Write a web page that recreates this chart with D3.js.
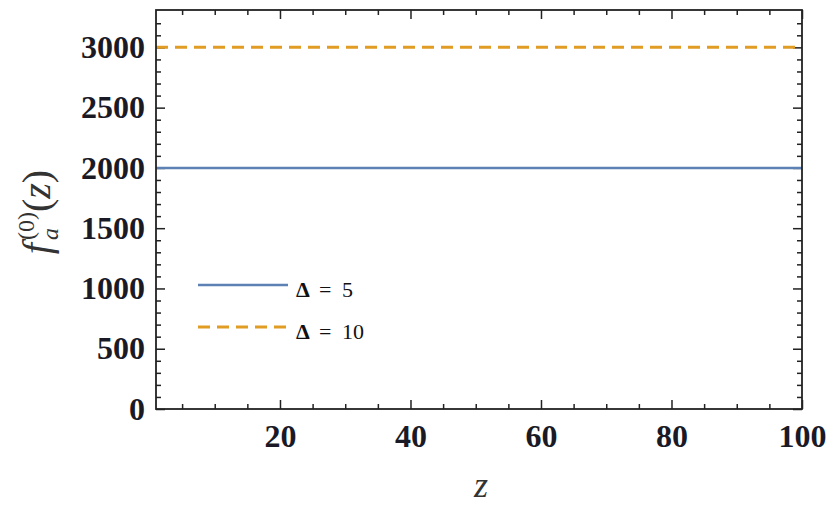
<!DOCTYPE html>
<html lang="en">
<head>
    <meta charset="UTF-8">
    <title>f_a(z)</title>
    <script src="https://d3js.org/d3.v7.min.js"></script>
    <style>
        body { margin: 0; background: #fff; }
        .tick text { font-family: "Liberation Serif", "Times New Roman", serif; }
    </style>
</head>
<body>
    <div id="chart"></div>
    <script>
        // data
        const zValues = [1, 100];
        const seriesNames = ["5", "10"];   // values of Delta
        const delta5 = [2000, 2000];
        const delta10 = [3000, 3000];
        const xTicks = [20, 40, 60, 80, 100];
        const yTicks = [0, 500, 1000, 1500, 2000, 2500, 3000];

        const W = 831, H = 506;
        const margin = { top: 10, right: 29, bottom: 97, left: 156 };
        const width = W - margin.left - margin.right;
        const height = H - margin.top - margin.bottom;
        const serif = "Liberation Serif, Times New Roman, serif";

        const svg = d3.select("#chart").append("svg")
            .attr("width", W).attr("height", H);
        const g = svg.append("g")
            .attr("transform", `translate(${margin.left},${margin.top})`);

        const x = d3.scaleLinear().domain([1, 100]).range([0, width]);
        const y = d3.scaleLinear().domain([0, 3310]).range([height, 0]);

        const xMinor = d3.range(5, 100, 5).filter(v => v % 20 !== 0);
        const yMinor = d3.range(100, 3300, 100).filter(v => v % 500 !== 0);

        function ticks(axisFn, scale, vals, size, labels) {
            return axisFn(scale).tickValues(vals).tickSize(size)
                .tickFormat(labels ? d3.format("d") : "");
        }

        // bottom
        g.append("g").attr("transform", `translate(0,${height})`)
            .call(ticks(d3.axisTop, x, xMinor, 5, false));
        g.append("g").attr("class", "xaxis").attr("transform", `translate(0,${height})`)
            .call(ticks(d3.axisTop, x, xTicks, 9, true));
        g.select(".xaxis").selectAll("text").attr("dy", null).attr("y", 38);
        // top
        g.append("g").call(ticks(d3.axisBottom, x, xMinor, 5, false));
        g.append("g").call(ticks(d3.axisBottom, x, xTicks, 9, false));
        // left
        g.append("g").call(ticks(d3.axisRight, y, yMinor, 5, false));
        g.append("g").attr("class", "yaxis").call(ticks(d3.axisRight, y, yTicks, 9, true));
        g.select(".yaxis").selectAll("text").attr("x", -11).attr("text-anchor", "end");
        // right
        g.append("g").attr("transform", `translate(${width},0)`)
            .call(ticks(d3.axisLeft, y, yMinor, 5, false));
        g.append("g").attr("transform", `translate(${width},0)`)
            .call(ticks(d3.axisLeft, y, yTicks, 9, false));

        g.selectAll(".domain").remove();
        g.selectAll(".tick line").attr("stroke", "#222").attr("stroke-width", 1.5);
        g.selectAll(".tick text")
            .attr("font-size", 32)
            .attr("font-weight", "bold")
            .attr("fill", "#1a1a26");

        // series
        const line = d3.line().x(d => x(d[0])).y(d => y(d[1]));
        g.append("path")
            .datum(zValues.map((z, i) => [z, delta5[i]]))
            .attr("d", line).attr("fill", "none")
            .attr("stroke", "#5E81B5").attr("stroke-width", 2.5);
        g.append("path")
            .datum(zValues.map((z, i) => [z, delta10[i]]))
            .attr("d", line).attr("fill", "none")
            .attr("stroke", "#E19C24").attr("stroke-width", 3)
            .attr("stroke-dasharray", "12,7");

        // frame
        g.append("rect").attr("width", width).attr("height", height)
            .attr("fill", "none").attr("stroke", "#222").attr("stroke-width", 1.8);

        // legend
        const legend = svg.append("g").attr("transform", "translate(198,285)");
        const styles = [
            { color: "#5E81B5", dash: null, w: 2.5 },
            { color: "#E19C24", dash: "12,7", w: 3 }
        ];
        seriesNames.forEach((name, i) => {
            const row = legend.append("g").attr("transform", `translate(0,${i * 42})`);
            row.append("line").attr("x1", 0).attr("x2", 90)
                .attr("stroke", styles[i].color)
                .attr("stroke-width", styles[i].w)
                .attr("stroke-dasharray", styles[i].dash);
            const t = row.append("text").attr("y", 12)
                .attr("font-family", serif)
                .attr("font-size", 22)
                .attr("fill", "#111");
            t.append("tspan").attr("x", 98).attr("font-weight", "bold").text("\u0394");
            t.append("tspan").attr("x", 121).text("=");
            t.append("tspan").attr("x", 144).text(name);
        });

        // axis labels
        svg.append("text")
            .attr("x", 481).attr("y", 497)
            .attr("text-anchor", "middle")
            .attr("font-family", serif)
            .attr("font-style", "italic")
            .attr("font-size", 36)
            .attr("fill", "#333")
            .text("z");

        const yl = svg.append("text")
            .attr("transform", "translate(50,212) rotate(-90)")
            .attr("text-anchor", "middle")
            .attr("font-family", serif)
            .attr("font-size", 40)
            .attr("fill", "#333");
        yl.append("tspan").attr("font-style", "italic").text("f");
        yl.append("tspan").attr("font-size", 24).attr("dy", 8).attr("dx", 3)
            .attr("font-style", "italic").text("a");
        yl.append("tspan").attr("font-size", 24).attr("dy", -24).attr("dx", -12).text("(0)");
        yl.append("tspan").attr("dy", 16).text("(");
        yl.append("tspan").attr("font-style", "italic").text("z");
        yl.append("tspan").text(")");
    </script>
</body>
</html>
